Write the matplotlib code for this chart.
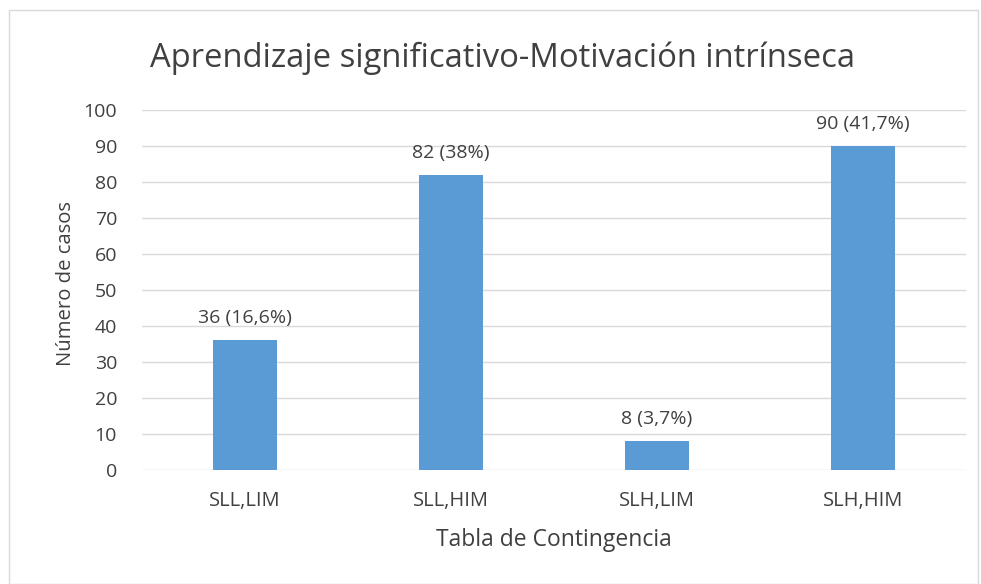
import matplotlib
matplotlib.use("Agg")
import matplotlib.pyplot as plt
from matplotlib.patches import Rectangle

categories = ["SLL,LIM", "SLL,HIM", "SLH,LIM", "SLH,HIM"]
values = [36, 82, 8, 90]
labels = ["36 (16,6%)", "82 (38%)", "8 (3,7%)", "90 (41,7%)"]
yticks = [0, 10, 20, 30, 40, 50, 60, 70, 80, 90, 100]

plt.rcParams['font.family'] = ['Open Sans', 'DejaVu Sans']
txt = '#404040'

fig = plt.figure(figsize=(9.81, 5.84), dpi=100)
fig.patch.set_facecolor('white')
fig.patches.append(Rectangle((9/981, 0), (978-9)/981, (584-10)/584, transform=fig.transFigure,
                             fill=False, edgecolor='#D9D9D9', linewidth=1))
ax = fig.add_axes([142/981, 114/584, (966-142)/981, 360/584])

x = range(len(categories))
ax.bar(x, values, width=0.31, color='#5B9BD5', zorder=3)
for i, (v, l) in enumerate(zip(values, labels)):
    ax.annotate(l, (i, v), xytext=(0, 12.2), textcoords='offset points',
                ha='center', va='baseline', fontsize=14, color=txt)

ax.set_xlim(-0.5, 3.5)
ax.set_ylim(0, 100)
ax.set_yticks(yticks)
ax.set_xticks(list(x))
ax.set_xticklabels(categories)
ax.tick_params(axis='both', length=0, colors=txt)
ax.tick_params(axis='x', pad=15, labelsize=14.5)
ax.tick_params(axis='y', pad=18, labelsize=14)
ax.grid(axis='y', color='#D9D9D9', linewidth=1, zorder=0)
for s in ax.spines.values():
    s.set_visible(False)

ax.set_xlabel("Tabla de Contingencia", fontsize=16.5, color=txt, labelpad=12)
ax.set_ylabel("Número de casos", fontsize=14.6, color=txt)
ax.yaxis.set_label_coords(76/981, 1 - 283/584, transform=fig.transFigure)
fig.text(502/981, 1 - 67/584, "Aprendizaje significativo-Motivación intrínseca",
         ha='center', va='baseline', fontsize=23.6, color=txt)

fig.savefig("out.png", dpi=100)
